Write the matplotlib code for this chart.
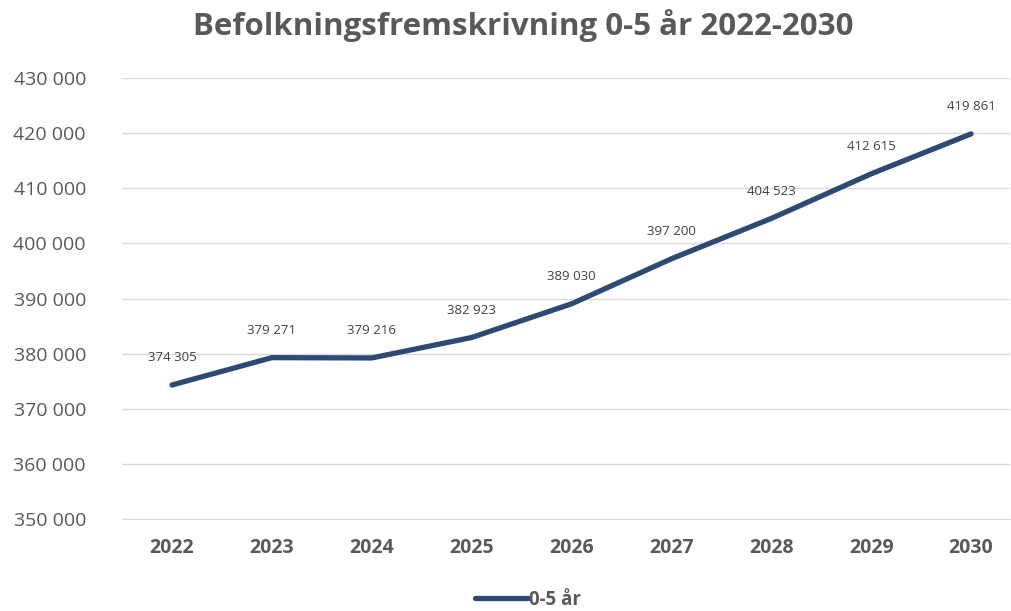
import matplotlib
matplotlib.use('Agg')
import matplotlib.pyplot as plt

plt.rcParams['font.family'] = ['Open Sans', 'DejaVu Sans']

years = ['2022', '2023', '2024', '2025', '2026', '2027', '2028', '2029', '2030']
values = [374305, 379271, 379216, 382923, 389030, 397200, 404523, 412615, 419861]
series_name = '0-5 år'


def fmt(v):
    return '{:,}'.format(int(v)).replace(',', ' ')


fig = plt.figure(figsize=(10.12, 6.11), dpi=100)
ax = fig.add_axes([122 / 1012, 1 - 519 / 611, (1010 - 122) / 1012, (519 - 78) / 611])

x = list(range(len(years)))
line_color = '#2E4A72'
ax.plot(x, values, color=line_color, lw=3.8, solid_capstyle='round',
        solid_joinstyle='round', label=series_name, zorder=3)

for xi, v in zip(x, values):
    ax.annotate(fmt(v), (xi, v), xytext=(0, 15), textcoords='offset points',
                ha='center', va='bottom', fontsize=9.5, color='#404040')

ax.set_ylim(350000, 430000)
ax.set_yticks(range(350000, 430001, 10000))
ax.set_yticklabels([fmt(t) for t in range(350000, 430001, 10000)],
                   fontsize=14, color='#595959')
ax.set_xlim(-0.5, 8.39)
ax.set_xticks(x)
ax.set_xticklabels(years, fontsize=14, fontweight='bold', color='#595959')
ax.tick_params(axis='both', length=0)
ax.tick_params(axis='y', pad=26)
ax.tick_params(axis='x', pad=14)
ax.grid(axis='y', color='#d9d9d9', lw=1)
ax.set_axisbelow(True)
for s in ['top', 'right', 'left']:
    ax.spines[s].set_visible(False)
ax.spines['bottom'].set_color('#d9d9d9')

fig.text(0.517, 0.958, 'Befolkningsfremskrivning 0-5 år 2022-2030', ha='center', va='center',
         fontsize=22.5, fontweight='bold', color='#595959')

leg = fig.legend(loc='center', bbox_to_anchor=(0.522, 0.018), frameon=False,
                 fontsize=13.5, handlelength=2.8, handletextpad=0.1)
for t in leg.get_texts():
    t.set_color('#595959')
    t.set_fontweight('bold')

fig.savefig('out.png', dpi=100)
